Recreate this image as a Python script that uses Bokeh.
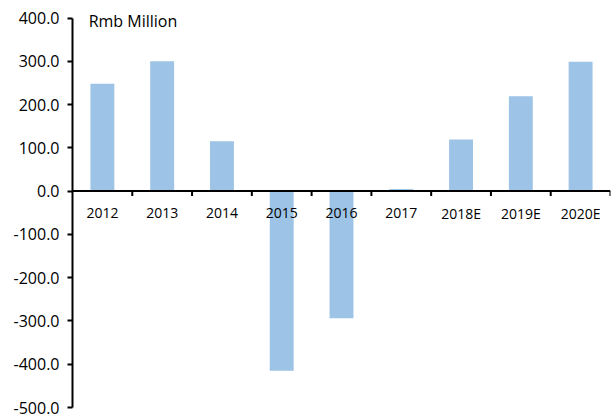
from bokeh.plotting import figure
from bokeh.models import ColumnDataSource, FixedTicker, NumeralTickFormatter, Span, Label
from bokeh.core.properties import value
from bokeh.embed import file_html
from bokeh.resources import INLINE

# Annual values, Rmb million
years = ["2012", "2013", "2014", "2015", "2016", "2017", "2018E", "2019E", "2020E"]
amounts = [248.0, 300.0, 115.0, -415.0, -294.0, 5.0, 119.0, 219.0, 299.0]
y_ticks = [-500, -400, -300, -200, -100, 0, 100, 200, 300, 400]

FONT = "Open Sans"
BAR_COLOR = "#9DC3E6"
Y_TOP = 422     # a little headroom above the last tick for the unit caption
FRAME_H = 399   # plot area height in pixels

centers = [i + 0.5 for i in range(len(years))]
source = ColumnDataSource(dict(x=centers, top=amounts, label=years))

p = figure(
    width=611, height=418,
    x_range=(0, len(years)), y_range=(min(y_ticks), Y_TOP),
    output_backend="svg", toolbar_location=None,
    x_axis_location=None,
    min_border_left=72, min_border_right=1, min_border_top=8, min_border_bottom=11,
)
p.outline_line_color = None
p.xgrid.visible = False
p.ygrid.visible = False
p.background_fill_color = "white"
p.border_fill_color = "white"

p.vbar(x="x", top="top", bottom=0, width=0.4, source=source,
       fill_color=BAR_COLOR, line_color=None)

# value axis
ya = p.yaxis[0]
ya.ticker = FixedTicker(ticks=y_ticks)
ya.bounds = (min(y_ticks), max(y_ticks))
ya.formatter = NumeralTickFormatter(format="0.0")
ya.axis_line_color = "black"
ya.axis_line_width = 2
ya.major_tick_line_color = "black"
ya.major_tick_line_width = 2
ya.major_tick_out = 5
ya.major_tick_in = 0
ya.minor_tick_line_color = None
ya.major_label_text_font = FONT
ya.major_label_text_font_size = "16px"
ya.major_label_text_color = "black"
ya.major_label_standoff = 8

# category axis drawn along zero, with ticks between categories
p.add_layout(Span(location=0, dimension="width", line_color="black", line_width=2))
units_per_px = (Y_TOP - min(y_ticks)) / FRAME_H
bounds = list(range(1, len(years) + 1))
p.segment(x0=bounds, x1=bounds, y0=[0] * len(bounds),
          y1=[-5 * units_per_px] * len(bounds),
          line_color="black", line_width=2)

p.text(x="x", y=0, text="label", source=source, y_offset=22,
       text_font=value(FONT), text_font_size="14px", text_color="black",
       text_align="center", text_baseline="middle")

p.add_layout(Label(x=0.27, y=392, text="Rmb Million", text_font=FONT,
                   text_font_size="16px", text_color="black",
                   text_baseline="middle", text_align="left"))

open("out.html", "w").write(file_html(p, INLINE))
